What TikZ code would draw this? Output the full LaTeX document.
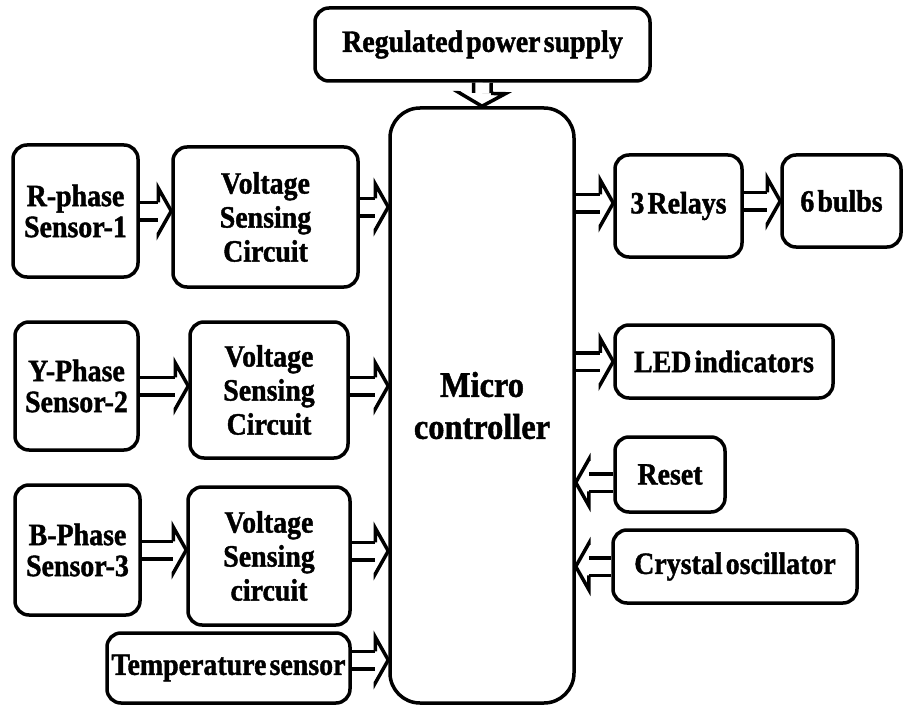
\documentclass[tikz,border=0pt]{standalone}
\usepackage{fontspec}
\setmainfont{Liberation Serif}[WordSpace=0.45, FakeStretch=0.9, BoldFeatures={FakeBold=1.3}]
\usetikzlibrary{decorations.markings}
\tikzset{
  blk/.style={draw, line width=3.5pt, rounded corners=14pt, inner sep=0pt, align=center,
    font=\fontsize{31}{31}\selectfont\bfseries},
  three/.style={font=\fontsize{31}{34}\selectfont\bfseries},
  arr/.style={double, double distance=14pt, line width=3.5pt, shorten >=13pt,
    postaction={decorate, decoration={markings, mark=at position 1 with {
      \draw[line width=3.5pt, fill=white, line join=miter]
        (-13pt,8.75pt) -- (-13pt,23pt) -- (0pt,0pt) -- (-13pt,-23pt) -- (-13pt,-8.75pt);}}}}
}
\begin{document}
\begin{tikzpicture}[x=1pt,y=-1pt]
\useasboundingbox (0,0) rectangle (905,706);
% boxes
\node[blk, minimum width=335, minimum height=73] (ps) at (482.5,44.5) {Regulated power supply};
\node[blk, rounded corners=30pt, minimum width=184, minimum height=595,
      font=\fontsize{36}{42}\selectfont\bfseries] (mc) at (482,405.5) {Micro\\controller};
\node[blk, minimum width=125, minimum height=132] (r) at (75.5,211) {R-phase\\Sensor-1};
\node[blk, three, minimum width=185, minimum height=140] (v1) at (265.5,217) {Voltage\\Sensing\\Circuit};
\node[blk, minimum width=123, minimum height=128] (yp) at (76.5,386) {Y-Phase\\Sensor-2};
\node[blk, three, minimum width=158, minimum height=136] (v2) at (269,390) {Voltage\\Sensing\\Circuit};
\node[blk, minimum width=125, minimum height=130] (bp) at (77.5,550) {B-Phase\\Sensor-3};
\node[blk, three, minimum width=162, minimum height=138] (v3) at (269,556) {Voltage\\Sensing\\circuit};
\node[blk, minimum width=243, minimum height=70] (temp) at (228.5,668) {Temperature sensor};
\node[blk, minimum width=127, minimum height=102] (rel) at (678.5,206) {3 Relays};
\node[blk, minimum width=119, minimum height=92] (bulb) at (841.5,201) {6 bulbs};
\node[blk, minimum width=218, minimum height=73] (led) at (724,361.5) {LED indicators};
\node[blk, minimum width=110, minimum height=75] (rst) at (670,474.5) {Reset};
\node[blk, minimum width=244, minimum height=73] (xtal) at (735,566.5) {Crystal oscillator};
% connectors
\draw[arr] (ps.south) -- (mc.north);
\draw[arr] (r.east) -- (r.east -| v1.west);
\draw[arr] ([yshift=10pt]v1.east) -- ([yshift=10pt]v1.east -| mc.west);
\draw[arr] (yp.east) -- (yp.east -| v2.west);
\draw[arr] ([yshift=4pt]v2.east) -- ([yshift=4pt]v2.east -| mc.west);
\draw[arr] (bp.east) -- (bp.east -| v3.west);
\draw[arr] ([yshift=5pt]v3.east) -- ([yshift=5pt]v3.east -| mc.west);
\draw[arr] ([yshift=8pt]temp.east) -- ([yshift=8pt]temp.east -| mc.west);
\draw[arr] ([yshift=3pt]rel.west -| mc.east) -- ([yshift=3pt]rel.west);
\draw[arr] ([yshift=5pt]rel.east) -- ([yshift=5pt]rel.east -| bulb.west);
\draw[arr] (led.west -| mc.east) -- (led.west);
\draw[arr] ([yshift=-8pt]rst.west) -- ([yshift=-8pt]rst.west -| mc.east);
\draw[arr] (xtal.west) -- (xtal.west -| mc.east);
\end{tikzpicture}
\end{document}
